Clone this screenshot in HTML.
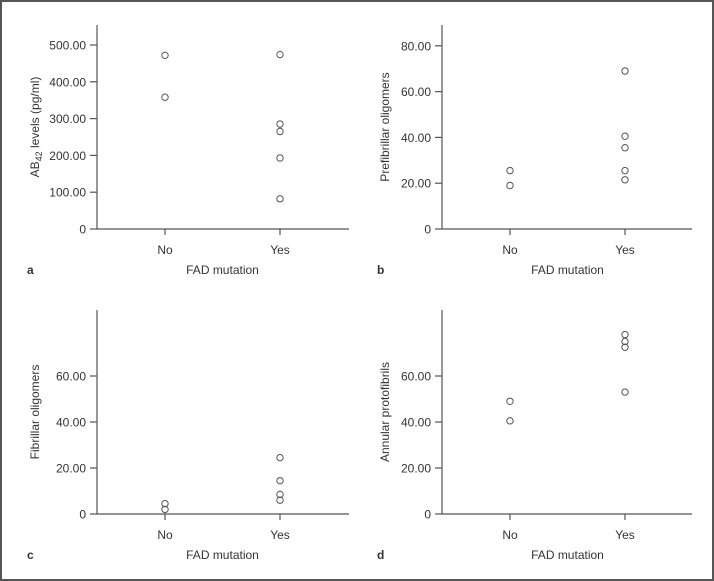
<!DOCTYPE html>
<html><head><meta charset="utf-8"><style>
html,body{margin:0;padding:0;background:#fff;}
#wrap{position:relative;width:714px;height:581px;box-sizing:border-box;border:2px solid #555;overflow:hidden;}
svg{position:absolute;left:0;top:0;}
text{font-family:"Liberation Sans",sans-serif;fill:#333;font-size:12px;}
</style></head><body>
<div id="wrap">
<svg id="fig" width="714" height="581"></svg>
</div>
<script>
const categories = ["No","Yes"];
const aNo = [472,358];
const aYes = [474,285,265,193,82];
const aTicks = [0,100,200,300,400,500];
const bNo = [25.5,19];
const bYes = [69,40.5,35.5,25.5,21.5];
const bTicks = [0,20,40,60,80];
const cNo = [4.5,2];
const cYes = [24.5,14.5,8.5,6];
const cTicks = [0,20,40,60];
const dNo = [49,40.5];
const dYes = [78,75,72.5,53];
const dTicks = [0,20,40,60];

const NS="http://www.w3.org/2000/svg";
const svg=document.getElementById('fig');
function mk(tag,attrs,parent){const e=document.createElementNS(NS,tag);for(const k in attrs)e.setAttribute(k,attrs[k]);(parent||svg).appendChild(e);return e;}

function panel(id,letter,ox,oy,axX,right,pxPerUnit,ticks,noVals,yesVals,title,sub){
  const g=mk('g',{});
  
  
  const base=oy+204, top=oy;
  const y=v=>base-v*pxPerUnit;
  const catX=[axX+68,axX+183];
  const yl=mk('line',{x1:axX,y1:top,x2:axX,y2:base,stroke:'#555','stroke-width':1.2},g);
  
  
  const xl=mk('line',{x1:axX,y1:base,x2:right,y2:base,stroke:'#555','stroke-width':1.2},g);
  
  
  ticks.forEach(t=>{
    mk('line',{x1:axX-7,y1:y(t),x2:axX,y2:y(t),stroke:'#555','stroke-width':1.2},g);
    const tx=mk('text',{x:axX-11,y:y(t)+4.5,'text-anchor':'end'},g);
    tx.textContent=t===0?'0':t.toFixed(2);
    
    
  });
  categories.forEach((c,i)=>{
    mk('line',{x1:catX[i],y1:base,x2:catX[i],y2:base+6,stroke:'#555','stroke-width':1.2},g);
    const tx=mk('text',{x:catX[i],y:base+25,'text-anchor':'middle'},g);
    tx.textContent=c;
    
    
  });
  [noVals,yesVals].forEach((vals,i)=>vals.forEach(v=>{
    const p=mk('circle',{cx:catX[i],cy:y(v),r:3.2,fill:'none',stroke:'#555','stroke-width':1},g);
    
    
  }));
  const xt=mk('text',{x:(catX[0]+catX[1])/2,y:base+45,'text-anchor':'middle'},g);
  xt.textContent='FAD mutation';
  
  
  const lt=mk('text',{x:ox,y:base+45,'font-weight':'bold','font-size':'13'},g);
  lt.textContent=letter;
  
  
  const yt=mk('text',{x:0,y:0,'text-anchor':'middle',transform:'translate('+(ox+12)+','+(oy+102)+') rotate(-90)'},g);
  yt.textContent=title;
  if(sub){const ts=mk('tspan',{'font-size':'9',dy:'3'},yt);ts.textContent=sub;const t2=mk('tspan',{dy:'-3'},yt);t2.textContent=' levels (pg/ml)';}
  
  
}
panel('a','a',25,23,95,347,0.368,aTicks,aNo,aYes,'AB','42');
panel('b','b',375,23,440,690,2.29,bTicks,bNo,bYes,'Prefibrillar oligomers');
panel('c','c',25,308,95,347,2.3,cTicks,cNo,cYes,'Fibrillar oligomers');
panel('d','d',375,308,440,690,2.3,dTicks,dNo,dYes,'Annular protofibrils');
</script>
</body></html>
